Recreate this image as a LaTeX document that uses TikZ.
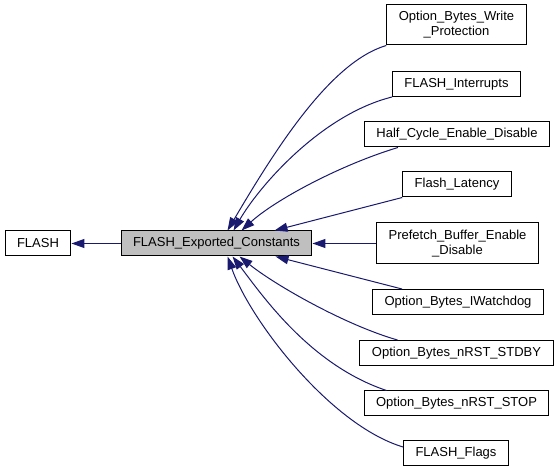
\documentclass[tikz,border=0pt]{standalone}
\usepackage{fontspec}
\setmainfont{Liberation Sans}
\usetikzlibrary{arrows.meta, calc}
\definecolor{edgeblue}{RGB}{25,25,112}
\definecolor{boxgray}{RGB}{191,191,191}
\tikzset{
  box/.style={draw=black, line width=0.75pt, fill=white, inner xsep=9pt, inner ysep=1pt,
    minimum height=18.75pt, align=center, font=\fontsize{9.75pt}{11.25pt}\selectfont},
  cur/.style={box, fill=boxgray},
  dep/.style={draw=edgeblue, line width=0.75pt, -{Triangle[length=9.75pt, width=6.75pt]}},
}

\begin{document}
\begin{tikzpicture}[x=0.75pt, y=-0.75pt]
\fill[white] (0,0) rectangle (560,473);
% group and its parent
\node[box] (flash) at (38,243.5) {FLASH};
\node[cur] (fec) at (216.5,243.5) {FLASH\_Exported\_Constants};
% sub groups
\node[box, minimum height=30pt] (wp) at (456.5,25) {Option\_Bytes\_Write\\\_Protection};
\node[box] (irq) at (456.5,84) {FLASH\_Interrupts};
\node[box] (hc) at (457,134.5) {Half\_Cycle\_Enable\_Disable};
\node[box] (lat) at (457,184.5) {Flash\_Latency};
\node[box, minimum height=30.75pt] (pf) at (457.5,243.5) {Prefetch\_Buffer\_Enable\\\_Disable};
\node[box] (iwdg) at (458,302) {Option\_Bytes\_IWatchdog};
\node[box] (stdby) at (456.5,353) {Option\_Bytes\_nRST\_STDBY};
\node[box] (stop) at (456.5,403.5) {Option\_Bytes\_nRST\_STOP};
\node[box] (flags) at (456,453) {FLASH\_Flags};
% edges
\draw[dep] (fec) -- (flash);
\draw[dep] (pf) -- (fec);
\draw[dep] (wp.south west) .. controls (330,62) and (275,150) .. ($(fec.north west)+(107,0)$);
\draw[dep] (irq.south west) .. controls (320,115) and (258,188) .. ($(fec.north west)+(113,0)$);
\draw[dep] ($(hc.south west)+(34,0)$) .. controls (340,165) and (275,200) .. ($(fec.north west)+(121,0)$);
\draw[dep] (lat.south west) -- ($(fec.north west)+(154,0)$);
\draw[dep] ($(iwdg.north west)+(30,0)$) -- ($(fec.south west)+(155,0)$);
\draw[dep] ($(stdby.north west)+(38,0)$) .. controls (345,325) and (275,285) .. ($(fec.south west)+(119,0)$);
\draw[dep] ($(stop.north west)+(23,0)$) .. controls (310,365) and (262,295) .. ($(fec.south west)+(112,0)$);
\draw[dep] ($(flags.north west)+(0,7)$) .. controls (330,425) and (250,320) .. ($(fec.south west)+(107,0)$);
\end{tikzpicture}
\end{document}
